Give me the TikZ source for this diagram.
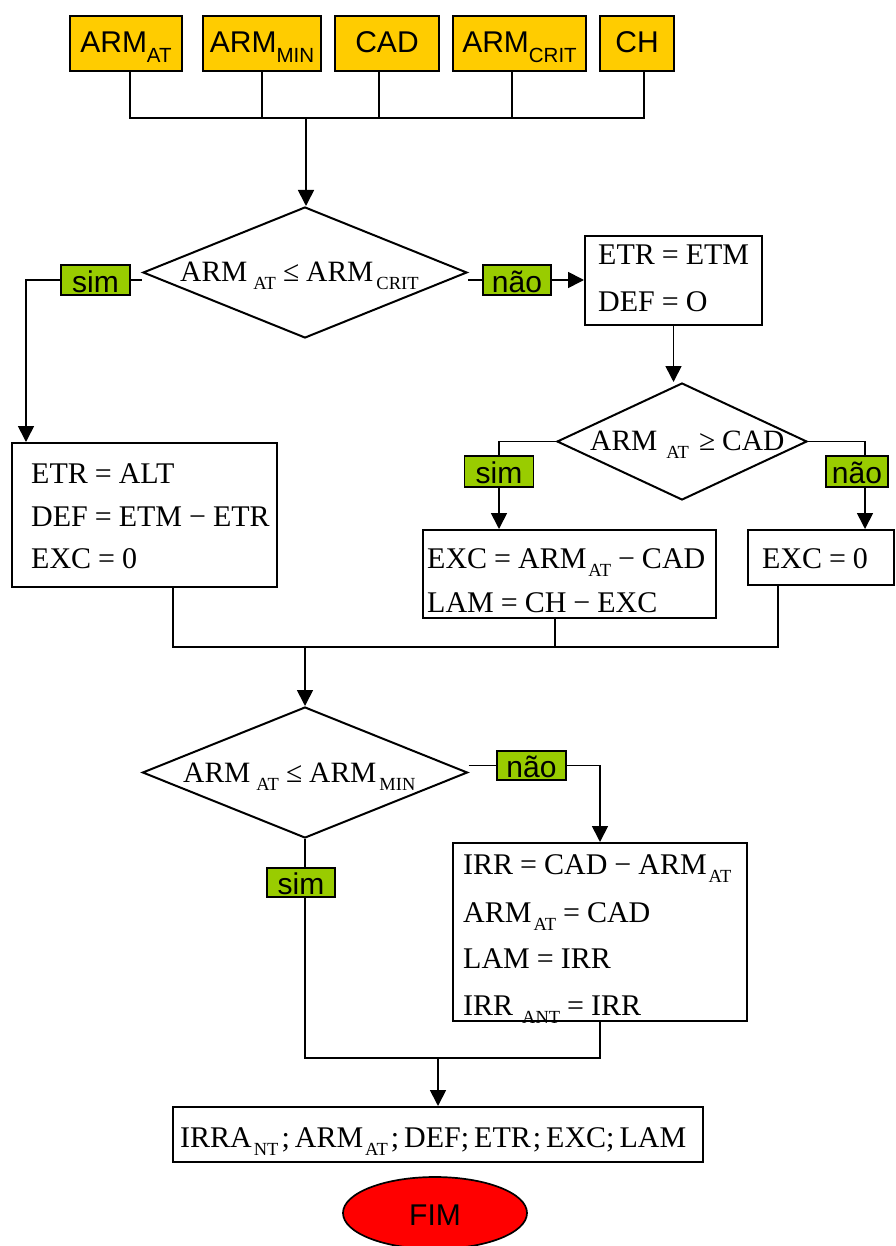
\documentclass[tikz,border=0pt]{standalone}
\usepackage{fontspec}
\setmainfont{Liberation Serif}
\newfontfamily\sansf{Liberation Sans}
\usetikzlibrary{shapes.geometric,arrows.meta}
\definecolor{gold}{HTML}{FFCC00}
\definecolor{lime}{HTML}{99CC00}
\definecolor{fimred}{HTML}{FF0000}
% lowered subscripts (serif formulas / sans input boxes)
\newcommand\tsub[2][2pt]{\hspace{#1}\raisebox{-8pt}{\fontsize{18.5}{18.5}\selectfont #2}}
\newcommand\asub[1]{\raisebox{-10pt}{\fontsize{20.5}{20.5}\selectfont #1}}
\newcommand\eqs{\hspace{7pt}=\hspace{7pt}}
\newcommand\mns{\hspace{7pt}−\hspace{7pt}}
\begin{document}
\begin{tikzpicture}[x=1pt,y=-1pt,
  inbox/.style={draw=black, line width=2pt, fill=gold, inner sep=0pt,
    minimum height=55pt, text height=21pt, text depth=2pt,
    font=\sansf\fontsize{30}{30}\selectfont},
  calcbox/.style={draw=black, line width=2pt, fill=white, inner sep=0pt},
  eqline/.style={anchor=base west, inner sep=0pt, font=\fontsize{30}{30}\selectfont},
  cond/.style={diamond, draw=black, line width=2pt, fill=white, inner sep=0pt},
  condtext/.style={anchor=base west, inner sep=0pt, font=\fontsize{29.5}{29.5}\selectfont},
  answer/.style={draw=black, line width=1.7pt, fill=lime, inner sep=0pt,
    minimum height=30pt, text height=24pt, text depth=0pt,
    font=\sansf\fontsize{30}{30}\selectfont},
  conn/.style={line width=1.7pt},
  arr/.style={conn, -{Triangle[length=16pt,width=16pt]}},
]
\fill[white] (0,0) rectangle (895,1246);
\useasboundingbox (0,0) rectangle (895,1246);

% input variables
\node[inbox, minimum width=112pt] (a1) at (126,43.5) {ARM\asub{AT}};
\node[inbox, minimum width=118pt] (a2) at (262,43.5) {ARM\asub{MIN}};
\node[inbox, minimum width=104pt] (a3) at (387,43.5) {CAD};
\node[inbox, minimum width=133pt] (a4) at (519.5,43.5) {ARM\asub{CRIT}};
\node[inbox, minimum width=74pt] (a5) at (637,43.5) {CH};

% first test
\node[cond, minimum width=324pt, minimum height=131pt] (d1) at (305,272.5) {};
\node[condtext] (d1t) at (180,282) {ARM\tsub[6pt]{AT}\hspace{7pt}≤\hspace{7pt}ARM\tsub[3pt]{CRIT}};
\node[answer, minimum width=69pt] (s1) at (95.5,280) {sim};
\node[answer, minimum width=68pt] (n1) at (517,280) {não};

\node[calcbox, minimum width=177pt, minimum height=89pt] (b1) at (673.5,280.5) {};
\node[eqline] (b1a) at (598,265) {ETR\eqs ETM};
\node[eqline] (b1b) at (598,312) {DEF\eqs O};

% second test
\node[cond, minimum width=250pt, minimum height=117pt] (d2) at (682,441.5) {};
\node[condtext] (d2t) at (590,450) {ARM\tsub[9pt]{AT}\hspace{10pt}≥\hspace{7pt}CAD};
\node[answer, minimum width=69pt, minimum height=31pt] (s2) at (499,471.5) {sim};
\node[answer, minimum width=62pt, minimum height=31pt] (n2) at (857,471.5) {não};

\node[calcbox, minimum width=265pt, minimum height=144pt] (b2) at (144.5,515) {};
\node[eqline] (b2a) at (31,483) {ETR\eqs ALT};
\node[eqline] (b2b) at (31,526) {DEF\eqs ETM\mns ETR};
\node[eqline] (b2c) at (31,568) {EXC\eqs 0};

\node[calcbox, minimum width=293pt, minimum height=88pt] (b3) at (569.5,574) {};
\node[eqline] (b3a) at (427,568) {EXC\eqs ARM\tsub{AT}\mns CAD};
\node[eqline] (b3b) at (427,612) {LAM\eqs CH\mns EXC};

\node[calcbox, minimum width=146pt, minimum height=55pt] (b4) at (821,557.5) {};
\node[eqline, anchor=base] (b4a) at (815,568) {EXC\eqs 0};

% third test
\node[cond, minimum width=325pt, minimum height=131pt] (d3) at (305,772.5) {};
\node[condtext] (d3t) at (183,782) {ARM\tsub[6pt]{AT}\hspace{7pt}≤\hspace{7pt}ARM\tsub[3pt]{MIN}};
\node[answer, minimum width=69pt, minimum height=29pt] (n3) at (531.5,765.5) {não};
\node[answer, minimum width=68pt, minimum height=29pt] (s3) at (301,882.5) {sim};

\node[calcbox, minimum width=294pt, minimum height=178pt] (b5) at (600,932) {};
\node[eqline] (b5a) at (463,874) {IRR\eqs CAD\mns ARM\tsub{AT}};
\node[eqline] (b5b) at (463,922) {ARM\tsub{AT}\eqs CAD};
\node[eqline] (b5c) at (463,968) {LAM\eqs IRR};
\node[eqline] (b5d) at (463,1015) {IRR\tsub[9pt]{ANT}\eqs IRR};

% outputs and end
\node[calcbox, minimum width=530pt, minimum height=55pt] (fin) at (438,1134.5) {};
\node[eqline] (fint) at (180,1147) {IRRA\tsub{NT}\hspace{3pt};\hspace{5pt}ARM\tsub{AT}\hspace{3pt};\hspace{5pt}DEF;\hspace{5pt}ETR\hspace{2pt};\hspace{5pt}EXC;\hspace{5pt}LAM};
\node[ellipse, draw=black, line width=1.7pt, fill=fimred, inner sep=0pt,
  minimum width=184pt, minimum height=72pt, text height=24pt, text depth=0pt,
  font=\sansf\fontsize{30}{30}\selectfont] (fim) at (435,1213) {FIM};

% connectors
\coordinate (bus) at (306,118);
\draw[conn] ([xshift=4pt]a1.south) |- (bus);
\draw[conn] (a2.south) |- (bus);
\draw[conn] ([xshift=-8pt]a3.south) |- (bus);
\draw[conn] ([xshift=-7.5pt]a4.south) |- (bus);
\draw[conn] ([xshift=7pt]a5.south) |- (bus);
\draw[arr] (bus) -- (bus |- d1.north);

\coordinate (c1) at (26,0);
\draw[conn] (s1.east) -- (d1.west |- s1.east);
\draw[arr] (s1.west) -| (c1 |- b2.north);
\draw[conn] (d1.east |- n1.west) -- (n1.west);
\draw[arr] (n1.east) -- (b1.west |- n1.east);
\draw[arr] (b1.south) -- (b1.south |- d2.north);

\coordinate (c2) at (865,0);
\draw[conn] (d2.west) -| (s2.north);
\draw[arr] (s2.south) -- (s2.south |- b3.north);
\draw[conn] (d2.east) -| (c2 |- n2.north);
\draw[arr] (c2 |- n2.south) -- (c2 |- b4.north);

\coordinate (m) at (305,647);
\coordinate (cL) at (173,0);
\coordinate (cM) at (555,0);
\coordinate (cR) at (778,0);
\draw[conn] (cL |- b2.south) |- (cR |- m) -- (cR |- b4.south);
\draw[conn] (cM |- b3.south) -- (cM |- m);
\draw[arr] (m) -- (m |- d3.north);

\draw[conn] (d3.east |- n3.west) -- (n3.west);
\draw[arr] (n3.east) -| (b5.north);

\coordinate (j) at (305,1058);
\coordinate (k) at (438,1058);
\draw[conn] (d3.south) -- (d3.south |- s3.north);
\draw[conn] (d3.south |- s3.south) -- (d3.south |- j) -- (b5.south |- j) -- (b5.south);
\draw[arr] (k) -- (fin.north);
\end{tikzpicture}
\end{document}
